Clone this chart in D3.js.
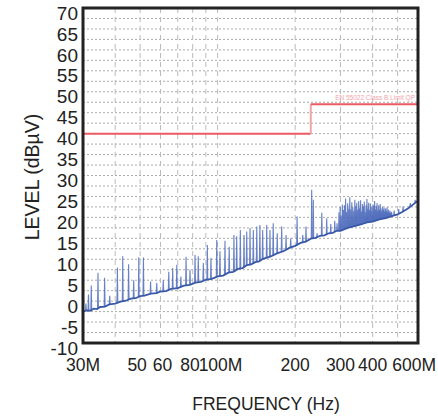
<!DOCTYPE html>
<html><head><meta charset="utf-8">
<script src="https://cdn.jsdelivr.net/npm/d3@7"></script>
<style>body{margin:0;background:#fff}svg{display:block}text{font-family:"Liberation Sans",Arial,sans-serif}</style>
</head><body><svg id="c" width="438" height="418"></svg>
<script>
// ---- data ----
const yTicks = [-10,-5,0,5,10,15,20,25,30,35,40,45,50,55,60,65,70];
const yGrid = d3.range(-10, 70.01, 2.5);
const xTickVals = [30,50,60,80,100,200,300,400,600];
const xTickLabels = ["30M","50","60","80","100M","200","300","400","600M"];
const xGridVals = [40,50,60,70,80,90,100,200,300,400,500];
// limit line (MHz, dBuV)
const limitLow = [[30,40],[230,40]];
const limitStep = [[230,40],[230,47]];
const limitHigh = [[230,47],[600,47]];
// noise floor (MHz, dBuV)
const floorData = [[30,-2.5],[31,-2.2],[32,-2.3],[33,-1.8],[34,-1.9],[35,-1.4],[36.5,-1.3],[38,-0.8],[40,-0.6],[42,-0.1],[44,0.1],[46,0.6],[48,0.7],[50,1.2],[52,1.3],[55,1.8],[58,1.9],[60,2.3],[63,2.4],[66,2.9],[70,3.1],[74,3.7],[78,3.9],[82,4.4],[86,4.6],[90,5.1],[95,5.3],[100,5.9],[105,6.1],[110,6.8],[115,7.0],[120,7.7],[125,7.9],[130,8.6],[135,8.8],[140,9.3],[145,9.5],[150,10.1],[160,10.6],[170,11.4],[180,11.9],[190,12.7],[200,13.2],[210,13.9],[220,14.2],[230,14.9],[240,15.1],[250,15.6],[260,15.7],[270,16.2],[280,16.3],[290,16.8],[300,16.8],[320,17.5],[340,17.9],[360,18.3],[380,18.8],[400,19],[425,19.5],[450,19.8],[475,20.3],[500,20.7],[525,21.4],[550,22.2],[575,23.1],[600,24]];
// spikes: [MHz, base, peak]
const spikes = [
[30.8,-2.3,-0.6],[31.5,-2.2,1.6],[32.3,-2.1,3.7],[34.3,-1.7,6.8],[36.4,-1.2,5.6],[38.1,-0.8,1.3],[40.8,-0.4,8],[42.8,0.0,10.7],[45.1,0.5,8.8],[47.2,0.7,5],[49.4,1.1,10.5],[51.5,1.3,10.4],
[54.9,1.7,4.7],[58,1.9,4.3],[61.5,2.3,5],[64.6,2.6,7],[66.9,2.9,7.9],[69.4,3.1,8.7],[72,3.4,5.9],[75.4,3.7,10.6],[78.1,3.9,7.5],[81.7,4.3,11],
[84.1,4.5,10.7],[88,4.9,9.1],[91.2,5.1,13.4],[94.2,5.3,10.3],[99.2,5.8,14.6],[102.1,6.0,11.9],[106.8,6.4,14.4],[110.9,6.8,13],[115.7,7.1,15.8],[118.6,7.5,15.5],
[122.5,7.8,17],[126.6,8.1,15.8],[129.7,8.5,16.6],[133.6,8.7,17.4],[137.6,9.0,17],[141.9,9.4,17.8],[145.9,9.6,18.2],[149.6,10,17],[155.1,10.3,18.2],[159.7,10.6,17],
[164.4,11.0,18.6],[170.4,11.4,16.2],[177.3,11.8,17.8],[184.4,12.2,15.8],[192.2,12.8,15],[203.5,13.4,20.2],[214,14.0,15.8],[220.4,14.2,17.8],[231.9,14.9,26.6],[235.2,15.0,24.2],
[243.3,15.2,16.2],[253.8,15.6,21.1],[265.2,15.9,19.8],[275,16.2,18.4],[285,16.5,19.2],[291,16.8,18.6],
[296,16.9,21.2],[299,17,22.5],[302,17,20.4],[305,17.1,23.1],[308,17.1,21.8],[311,17.2,22.9],[314,17.3,24.5],[317,17.3,21.3],[320,17.4,23.4],[323,17.5,22.1],
[326,17.5,24.8],[329,17.6,21.9],[332,17.7,23.6],[335,17.7,22.4],[338,17.8,21.5],[341,17.9,24.2],[344,17.9,22.7],[347,18,23.5],[350,18.1,21.8],[353,18.1,23.9],
[356,18.2,22.2],[359,18.3,24.1],[362,18.3,21.4],[365,18.4,23.2],[368,18.5,22.6],[371,18.5,23.8],[374,18.6,21.3],[377,18.7,22.9],[380,18.7,24.4],[383,18.8,22.1],
[386,18.9,23.5],[389,18.9,21.7],[392,19,23.3],[395,19,22.4],[398,19,21.5],[401,19.1,23.1],[404,19.1,22.8],[407,19.2,23.9],[410,19.2,21.9],[413,19.3,22.7],
[416,19.3,23.4],[419,19.4,21.6],[422,19.4,22.9],[425,19.5,21.8],[428,19.5,23.2],[431,19.6,22.1],[434,19.6,21.5],[437,19.7,22.6],[440,19.7,21.9],[443,19.8,22.3],
[446,19.8,21.4],[449,19.9,22.1],[452,19.9,21.6],[455,20,22.4],[458,20,21.3],[461,20.1,21.9],[464,20.1,21.2],[467,20.2,21.6],[470,20.2,21.0],[474,20.3,21.3],
[485,20.5,21.6],[505,20.8,22],[525,21.4,22.6],[560,22.5,23.4],[585,23.4,24.2]
];
const limitText = "EN 55022 Class B Limit QP";

// ---- layout ----
const svg = d3.select("#c");
const L = 83, R = 418, T = 8, B = 343;
const x = d3.scaleLog().domain([30,600]).range([L,R]);
const y = d3.scaleLinear().domain([-10,70]).range([B,T]);

// grid
svg.append("g").selectAll("line").data(yGrid.slice(1,-1)).join("line")
  .attr("x1",L).attr("x2",R).attr("y1",d=>y(d)).attr("y2",d=>y(d))
  .attr("stroke","#aaa").attr("stroke-width",1).attr("stroke-dasharray","2,2");
svg.append("g").selectAll("line").data(xGridVals).join("line")
  .attr("x1",d=>x(d)).attr("x2",d=>x(d)).attr("y1",T).attr("y2",B)
  .attr("stroke","#bbb").attr("stroke-width",1).attr("stroke-dasharray","5,4");

// limit
const ln = d3.line().x(d=>x(d[0])).y(d=>y(d[1]));
svg.append("path").attr("d",ln(limitLow)).attr("fill","none").attr("stroke","#ec5a64").attr("stroke-width",2);
svg.append("path").attr("d",ln(limitStep)).attr("fill","none").attr("stroke","#f5a3aa").attr("stroke-width",2);
svg.append("path").attr("d",ln(limitHigh)).attr("fill","none").attr("stroke","#ec5a64").attr("stroke-width",2);
svg.append("text").attr("x",R-3).attr("y",y(47)-4).attr("text-anchor","end")
  .attr("font-size",6.5).attr("fill","#f4a3aa").text(limitText);

// spikes
svg.append("g").selectAll("path").data(spikes).join("path")
  .attr("d",d=>ln([[d[0]/1.004,d[1]],[d[0],d[2]],[d[0]*1.004,d[1]]]))
  .attr("fill","none").attr("stroke","#4f6cbc").attr("stroke-width",1.1).attr("stroke-opacity",0.85);
// floor
svg.append("path").attr("d",ln(floorData)).attr("fill","none").attr("stroke","#3a58a8").attr("stroke-width",1.8);

// frame
svg.append("rect").attr("x",L).attr("y",T).attr("width",R-L).attr("height",B-T)
  .attr("fill","none").attr("stroke","#222").attr("stroke-width",3);

// y tick labels
svg.append("g").selectAll("text").data(yTicks).join("text")
  .attr("x",78).attr("y",d=>y(d)+5).attr("dy","0.35em").attr("text-anchor","end")
  .attr("font-size",19).attr("fill","#222").text(d=>d);
// x tick labels ("80" and "100M" sit side by side as in the original; last label kept inside the page)
const labelX = d => d===80 ? x(d)+7 : d===100 ? x(d)-19 : d===600 ? 436 : d===50 ? x(d)-3 : d===60 ? x(d)+2 : x(d);
svg.append("g").selectAll("text").data(xTickVals).join("text")
  .attr("x",labelX)
  .attr("y",371)
  .attr("text-anchor",d=>d===80 ? "end" : d===100 ? "start" : d===600 ? "end" : "middle")
  .attr("font-size",17.5).attr("fill","#222").text((d,i)=>xTickLabels[i]);
// axis titles
svg.append("text").attr("x",266).attr("y",410).attr("text-anchor","middle")
  .attr("font-size",17.5).attr("fill","#222").text("FREQUENCY (Hz)");
svg.append("text").attr("transform","translate(39,177) rotate(-90)").attr("text-anchor","middle")
  .attr("font-size",19.5).attr("fill","#222").text("LEVEL (dBµV)");
</script></body></html>
